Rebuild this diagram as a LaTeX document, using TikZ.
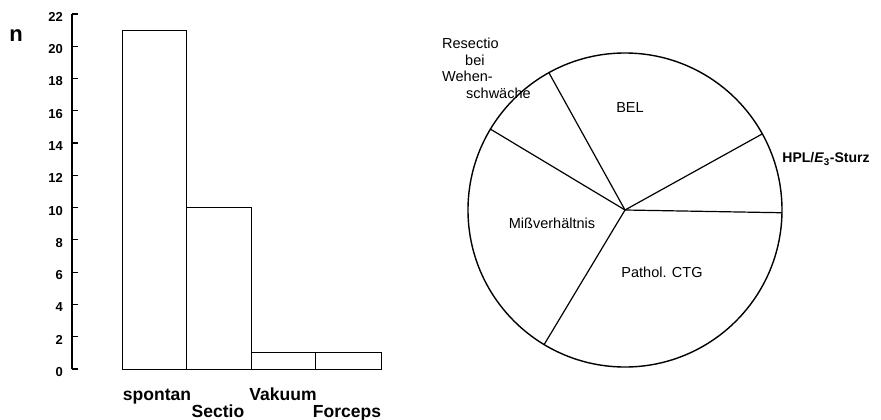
\documentclass[tikz,border=0pt]{standalone}
\usepackage{fontspec}
\setmainfont{Liberation Sans}
\begin{document}
\begin{tikzpicture}[x=1pt,y=-1pt,
  axisline/.style={line width=1.5pt},
  barbox/.style={line width=1pt},
  ticklab/.style={anchor=east,inner sep=0pt,font=\fontsize{13}{13}\selectfont\bfseries},
  barlab/.style={inner sep=0pt,anchor=base,font=\fontsize{17.5}{18}\selectfont\bfseries},
  pielab/.style={inner sep=0pt,font=\fontsize{14.5}{15}\selectfont},
  reslab/.style={pielab,anchor=west},
  pieline/.style={line width=1.2pt}]
\useasboundingbox (0,0) rectangle (881,420);
% y axis
\coordinate (ax0) at (72,369);
\coordinate (ax1) at (72,14);
\draw[axisline] (ax0) -- (ax1);
\foreach \v in {0,2,...,22}{
  \draw[line width=1.2pt] (72,{369-16.14*\v}) -- (78,{369-16.14*\v});
  \node[ticklab] (t\v) at (63,{372-16.14*\v}) {\v};
}
\node[inner sep=0pt,font=\fontsize{22}{22}\selectfont\bfseries] (n) at (16,36) {n};
% bars
\draw[barbox] (122,369) rectangle (186,{369-21*16.14});
\draw[barbox] (186,369) rectangle (251,{369-10*16.14});
\draw[barbox] (251,369) rectangle (315,{369-1*16.14});
\draw[barbox] (315,369) rectangle (381,{369-1*16.14});
\node[barlab] (spontan) at (157,400) {spontan};
\node[barlab] (sectio) at (218,417) {Sectio};
\node[barlab] (vakuum) at (283,400) {Vakuum};
\node[barlab] (forceps) at (347,417) {Forceps};
% pie
\coordinate (c) at (625,210);
\draw[line width=1.4pt] (c) circle (157);
\foreach \a in {-1,29,119,149,239}{
  \draw[pieline] (c) -- ({625+157*cos(\a)},{210-157*sin(\a)});
}
\node[reslab] (res1) at (442,43) {Resectio};
\node[reslab] (res2) at (465,60) {bei};
\node[reslab] (res3) at (442,76) {Wehen-};
\node[reslab] (res4) at (466,93) {schwäche};
\node[pielab] (bel) at (630,108) {BEL};
\node[pielab] (hpl) at (826,159) {\fontsize{14}{14}\selectfont\bfseries HPL/\textit{E}\textsubscript{3}-Sturz};
\node[pielab] (miss) at (552,223) {Mißverhältnis};
\node[pielab] (ctg) at (662,272) {Pathol. CTG};
\end{tikzpicture}
\end{document}
